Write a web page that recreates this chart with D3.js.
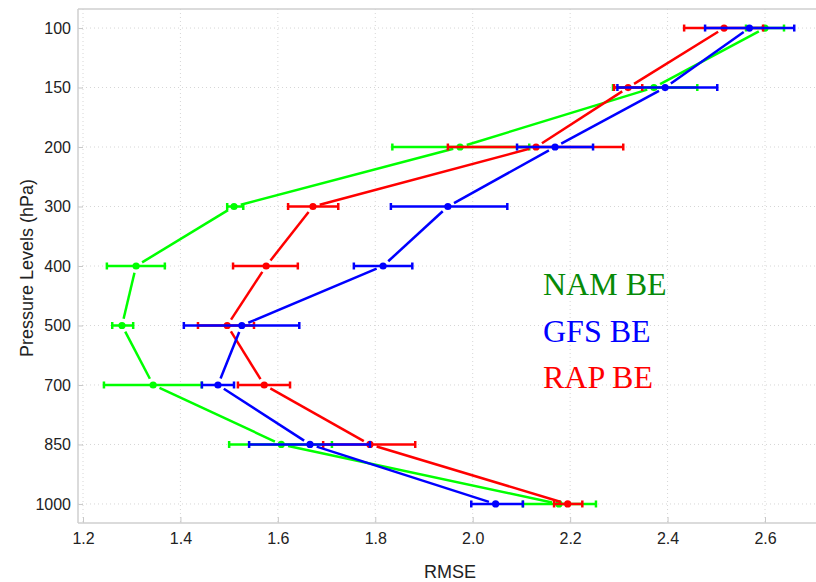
<!DOCTYPE html>
<html>
<head>
<meta charset="utf-8">
<script src="https://cdn.jsdelivr.net/npm/d3@7"></script>
<style>
  body { margin: 0; background: #fff; }
  text { font-family: "Liberation Sans", Arial, sans-serif; }
</style>
</head>
<body>
<div id="chart"></div>
<script>
var levels = ["100", "150", "200", "300", "400", "500", "700", "850", "1000"];
var xTicks = [1.2, 1.4, 1.6, 1.8, 2.0, 2.2, 2.4, 2.6];

// NAM BE
var namMean = [2.600, 2.372, 1.974, 1.510, 1.309, 1.280, 1.344, 1.607, 2.177];
var namLo   = [2.561, 2.288, 1.835, 1.496, 1.249, 1.260, 1.243, 1.500, 2.103];
var namHi   = [2.639, 2.461, 2.116, 1.529, 1.368, 1.303, 1.444, 1.711, 2.253];
// GFS BE
var gfsMean = [2.568, 2.395, 2.169, 1.949, 1.816, 1.526, 1.477, 1.666, 2.047];
var gfsLo   = [2.477, 2.297, 2.091, 1.832, 1.756, 1.407, 1.444, 1.541, 1.997];
var gfsHi   = [2.660, 2.502, 2.247, 2.071, 1.876, 1.644, 1.510, 1.789, 2.103];
// RAP BE
var rapMean = [2.516, 2.319, 2.130, 1.672, 1.576, 1.496, 1.572, 1.789, 2.195];
var rapLo   = [2.434, 2.290, 1.949, 1.621, 1.508, 1.436, 1.518, 1.693, 2.167];
var rapHi   = [2.596, 2.348, 2.309, 1.724, 1.641, 1.551, 1.625, 1.882, 2.225];

var seriesNames = ["NAM BE", "GFS BE", "RAP BE"];

var width = 816, height = 582;
var plotL = 78, plotT = 9, plotB = 523, plotR = 816;

var svg = d3.select("#chart").append("svg")
  .attr("width", width)
  .attr("height", height);

var x = d3.scaleLinear().domain([1.2, 2.6]).range([83, 765]);
var y = d3.scalePoint().domain(levels).range([plotT, plotB]).padding(0.32);

// grid
svg.append("g").selectAll("line")
  .data(xTicks).enter().append("line")
  .attr("x1", function (d) { return x(d); })
  .attr("x2", function (d) { return x(d); })
  .attr("y1", plotT).attr("y2", plotB)
  .attr("stroke", "#d6d6d6").attr("stroke-dasharray", "1,3");
svg.append("g").selectAll("line")
  .data(levels).enter().append("line")
  .attr("x1", plotL).attr("x2", plotR)
  .attr("y1", function (d) { return y(d); })
  .attr("y2", function (d) { return y(d); })
  .attr("stroke", "#d6d6d6").attr("stroke-dasharray", "1,3");

var xAxis = svg.append("g")
  .attr("transform", "translate(0," + plotB + ")")
  .call(d3.axisBottom(x).tickValues(xTicks).tickFormat(d3.format(".1f"))
    .tickSizeInner(-6).tickSizeOuter(0).tickPadding(10));
var yAxis = svg.append("g")
  .attr("transform", "translate(" + plotL + ",0)")
  .call(d3.axisLeft(y).tickSizeInner(-5).tickSizeOuter(0).tickPadding(7));

[xAxis, yAxis].forEach(function (a) {
  a.select(".domain").remove();
  a.selectAll(".tick line").attr("stroke", "#c8c8c8");
  a.selectAll(".tick text").attr("fill", "#222").style("font-size", "16px");
});

// frame
svg.append("line").attr("x1", plotL).attr("x2", plotR).attr("y1", plotT).attr("y2", plotT)
  .attr("stroke", "#cfcfcf").attr("stroke-width", 1.5);
svg.append("line").attr("x1", plotL).attr("x2", plotR).attr("y1", plotB).attr("y2", plotB)
  .attr("stroke", "#cfcfcf").attr("stroke-width", 1.5);
svg.append("line").attr("x1", plotL).attr("x2", plotL).attr("y1", plotT).attr("y2", plotB)
  .attr("stroke", "#cfcfcf").attr("stroke-width", 1.5);

// axis titles
svg.append("text")
  .attr("x", 450).attr("y", 578)
  .attr("text-anchor", "middle")
  .attr("fill", "#222")
  .style("font-size", "18px")
  .text("RMSE");
svg.append("text")
  .attr("transform", "translate(33,268) rotate(-90)")
  .attr("text-anchor", "middle")
  .attr("fill", "#222")
  .style("font-size", "18px")
  .text("Pressure Levels (hPa)");

function drawSeries(mean, lo, hi, color) {
  var g = svg.append("g");
  var pts = levels.map(function (l, i) { return [x(mean[i]), y(l)]; });
  var gap = 7;
  // lines with a gap around each point
  for (var i = 0; i < pts.length - 1; i++) {
    var a = pts[i], b = pts[i + 1];
    var dx = b[0] - a[0], dy = b[1] - a[1];
    var len = Math.sqrt(dx * dx + dy * dy);
    if (len <= 2 * gap) continue;
    var ux = dx / len, uy = dy / len;
    g.append("line")
      .attr("x1", a[0] + ux * gap).attr("y1", a[1] + uy * gap)
      .attr("x2", b[0] - ux * gap).attr("y2", b[1] - uy * gap)
      .attr("stroke", color).attr("stroke-width", 2.5);
  }
  // error bars
  levels.forEach(function (l, i) {
    var yy = y(l);
    g.append("line")
      .attr("x1", x(lo[i])).attr("x2", x(hi[i]))
      .attr("y1", yy).attr("y2", yy)
      .attr("stroke", color).attr("stroke-width", 2.5);
    [lo[i], hi[i]].forEach(function (v) {
      g.append("line")
        .attr("x1", x(v)).attr("x2", x(v))
        .attr("y1", yy - 3.5).attr("y2", yy + 3.5)
        .attr("stroke", color).attr("stroke-width", 2.5);
    });
  });
  g.selectAll("circle")
    .data(pts).enter().append("circle")
    .attr("cx", function (d) { return d[0]; })
    .attr("cy", function (d) { return d[1]; })
    .attr("r", 3.6)
    .attr("fill", color);
}

drawSeries(namMean, namLo, namHi, "#00ff00");
drawSeries(rapMean, rapLo, rapHi, "#ff0000");
drawSeries(gfsMean, gfsLo, gfsHi, "#0000ff");

// legend
var legendColors = ["#078a07", "#0000ff", "#ff0000"];
svg.append("g").selectAll("text")
  .data(seriesNames).enter().append("text")
  .attr("x", 543)
  .attr("y", function (d, i) { return 295 + i * 46.5; })
  .attr("fill", function (d, i) { return legendColors[i]; })
  .style("font-family", "'Liberation Serif', 'Times New Roman', serif")
  .style("font-size", "32px")
  .text(function (d) { return d; });
</script>
</body>
</html>
